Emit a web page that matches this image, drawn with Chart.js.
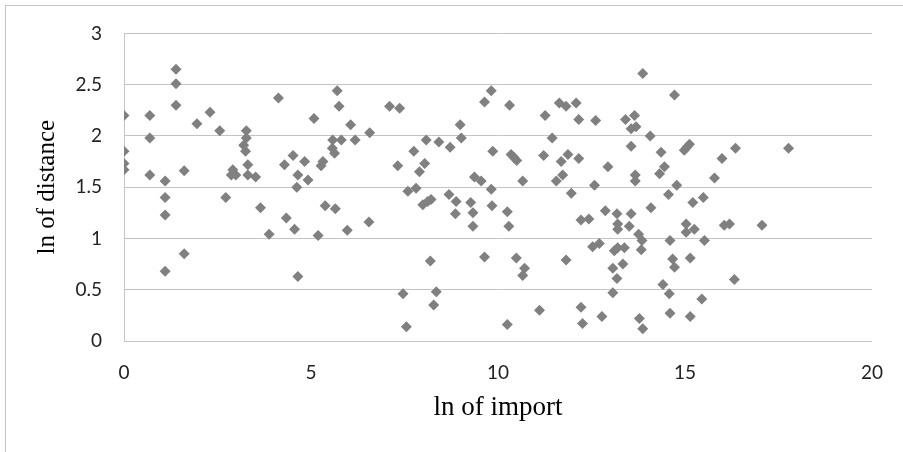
<!DOCTYPE html>
<html>
<head>
<meta charset="utf-8">
<script src="https://cdn.jsdelivr.net/npm/chart.js@4.4.1/dist/chart.umd.min.js"></script>
<style>
    html, body { margin: 0; padding: 0; background: #fff; }
    #frame { position: absolute; left: 5px; top: 5px; width: 1000px; height: 600px; border-left: 1px solid #c4c4c4; border-top: 1px solid #c4c4c4; }
    #wrap { position: absolute; left: 0; top: 0; width: 903px; height: 452px; }
</style>
</head>
<body>
<div id="frame"></div>
<div id="wrap"><canvas id="scatterChart" width="903" height="452"></canvas></div>
<script>
const importLn = [
    0, 0, 0, 0,
    0.69, 0.69, 0.69,
    1.1, 1.1, 1.1, 1.1,
    1.39, 1.39, 1.39,
    1.61, 1.61,
    1.95, 2.3, 2.56, 2.72,
    2.87, 2.91, 2.99,
    3.27, 3.27, 3.2, 3.25, 3.31, 3.31, 3.52, 3.65, 3.88,
    4.13, 4.29, 4.34, 4.52, 4.56, 4.62, 4.65, 4.65, 4.83, 4.92,
    5.08, 5.19, 5.27, 5.32, 5.38, 5.58, 5.57, 5.63, 5.65, 5.7, 5.75, 5.81, 5.97,
    6.06, 6.18, 6.55, 6.57,
    7.1, 7.37, 7.32, 7.46, 7.55, 7.59, 7.75, 7.81, 7.9, 7.99,
    8.04, 8.08, 8.12, 8.21, 8.19, 8.28, 8.35, 8.42, 8.69, 8.72, 8.86, 8.88, 8.99,
    9.02, 9.27, 9.33, 9.33, 9.37, 9.55, 9.64, 9.64, 9.82, 9.86, 9.82, 9.84,
    10.25, 10.29, 10.25, 10.31, 10.35, 10.43, 10.5, 10.66, 10.49, 10.71, 10.66,
    11.11, 11.26, 11.45, 11.22, 11.64, 11.82, 11.69, 11.87, 11.73, 11.56, 11.96, 11.82,
    12.09, 12.16, 12.61, 12.16, 12.58, 12.94, 12.22, 12.43, 12.22, 12.26, 12.78, 12.87, 12.53, 12.71,
    13.18, 13.56, 13.2, 13.2, 13.51, 13.76, 13.85, 13.83, 13.11, 13.2, 13.38, 13.07, 13.34, 13.18, 13.07,
    13.87, 13.78, 13.87, 13.41, 13.65, 13.56, 13.69, 13.56, 13.67, 13.67,
    14.72, 14.07, 14.36, 14.45, 14.32, 14.09, 14.56, 14.78, 14.6, 14.67, 14.72, 14.41, 14.58, 14.6,
    15.12, 14.98, 15.05, 16.35, 17.77, 15.99, 15.79, 15.21, 15.49, 15.03, 15.25, 15.03,
    16.05, 16.19, 17.06, 15.52, 15.14, 16.32, 15.45, 15.14,
];

const distanceLn = [
    2.2, 1.85, 1.73, 1.67,
    2.2, 1.98, 1.62,
    1.56, 1.4, 1.23, 0.68,
    2.65, 2.51, 2.3,
    1.66, 0.85,
    2.12, 2.23, 2.05, 1.4,
    1.62, 1.67, 1.62,
    2.05, 1.98, 1.91, 1.85, 1.72, 1.62, 1.6, 1.3, 1.04,
    2.37, 1.72, 1.2, 1.81, 1.09, 1.5, 1.62, 0.63, 1.75, 1.57,
    2.17, 1.03, 1.71, 1.75, 1.32, 1.96, 1.88, 1.83, 1.29, 2.44, 2.29, 1.96, 1.08,
    2.11, 1.96, 1.16, 2.03,
    2.29, 2.27, 1.71, 0.46, 0.14, 1.46, 1.85, 1.49, 1.65, 1.33,
    1.73, 1.96, 1.36, 1.38, 0.78, 0.35, 0.48, 1.94, 1.43, 1.89, 1.24, 1.36, 2.11,
    1.98, 1.35, 1.25, 1.12, 1.6, 1.56, 0.82, 2.33, 2.44, 1.85, 1.48, 1.32,
    1.26, 1.12, 0.16, 2.3, 1.82, 1.79, 1.76, 1.56, 0.81, 0.71, 0.64,
    0.3, 2.2, 1.98, 1.81, 2.32, 2.29, 1.75, 1.82, 1.62, 1.56, 1.44, 0.79,
    2.32, 2.16, 2.15, 1.78, 1.52, 1.7, 1.18, 1.19, 0.33, 0.17, 0.24, 1.27, 0.92, 0.95,
    1.24, 1.24, 1.14, 1.09, 1.12, 1.04, 0.98, 0.89, 0.88, 0.91, 0.91, 0.71, 0.75, 0.61, 0.47,
    2.61, 0.22, 0.12, 2.16, 2.2, 2.07, 2.09, 1.9, 1.62, 1.56,
    2.4, 2.0, 1.84, 1.7, 1.63, 1.3, 1.43, 1.52, 0.98, 0.8, 0.72, 0.55, 0.46, 0.27,
    1.92, 1.86, 1.89, 1.88, 1.88, 1.78, 1.59, 1.35, 1.4, 1.14, 1.09, 1.06,
    1.13, 1.14, 1.13, 0.98, 0.81, 0.6, 0.41, 0.24,
];

const xTicks = [0, 5, 10, 15, 20];
const yTicks = [0, 0.5, 1, 1.5, 2, 2.5, 3];

const points = importLn.map((x, i) => ({ x: x, y: distanceLn[i] }));

const LINE = '#c4c4c4';
const TICK_FONT = { family: 'Lato', size: 19 };

new Chart(document.getElementById('scatterChart'), {
    type: 'scatter',
    data: {
        datasets: [{
            label: 'ln of distance',
            data: points,
            pointStyle: 'rectRot',
            pointRadius: 5.5,
            pointHoverRadius: 5.5,
            backgroundColor: '#808080',
            borderColor: '#808080',
            borderWidth: 0,
        }],
    },
    options: {
        responsive: false,
        animation: false,
        layout: { padding: { left: 0, right: 30, top: 31, bottom: 0 } },
        plugins: {
            legend: { display: false },
            tooltip: { enabled: false },
        },
        scales: {
            x: {
                type: 'linear',
                min: 0,
                max: 20,
                afterBuildTicks: axis => { axis.ticks = xTicks.map(v => ({ value: v })); },
                afterFit: axis => { axis.height = 111; },
                grid: { display: false, drawTicks: false },
                border: { display: true, color: LINE, width: 1 },
                ticks: { color: '#222', font: TICK_FONT, padding: 20, callback: v => String(v) },
                title: { display: true, text: 'ln of import', color: '#000', font: { family: 'Liberation Serif', size: 27 }, padding: { top: 0, bottom: 28 } },
            },
            y: {
                type: 'linear',
                min: 0,
                max: 3,
                afterBuildTicks: axis => { axis.ticks = yTicks.map(v => ({ value: v })); },
                afterFit: axis => { axis.width = 124; },
                grid: { color: LINE, drawTicks: false },
                border: { display: true, color: LINE, width: 1 },
                ticks: { color: '#222', font: TICK_FONT, padding: 22, callback: v => String(v) },
                title: { display: true, text: 'ln of distance', color: '#000', font: { family: 'Liberation Serif', size: 25 }, padding: { top: 32, bottom: 0 } },
            },
        },
    },
});
</script>
</body>
</html>
